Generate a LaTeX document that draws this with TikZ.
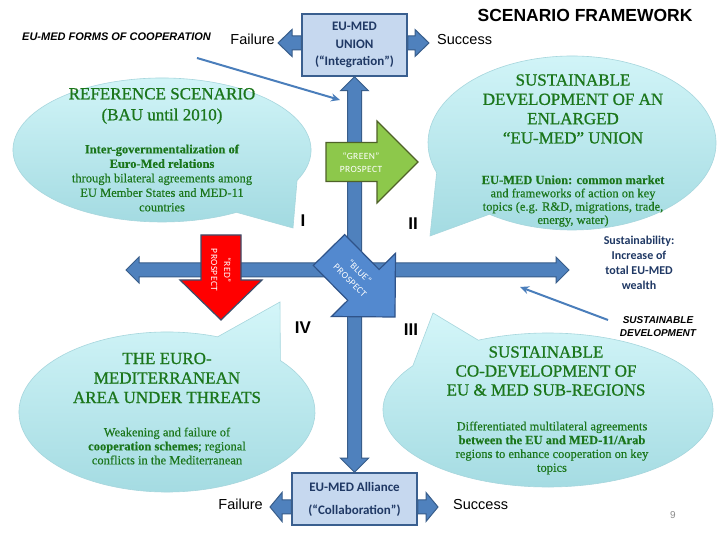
\documentclass[tikz,border=0pt]{standalone}
\usepackage{fontspec}
\setmainfont{Liberation Serif}
\newfontfamily\bubtitlefont[FakeBold=0.9]{Liberation Serif}
\newfontfamily\bubbodyfont[FakeBold=0.35]{Liberation Serif}
\newfontfamily\arial{Liberation Sans}
\newfontfamily\calibri{Carlito}
\newfontfamily\prosp[LetterSpace=4]{Carlito}
\usetikzlibrary{calc,arrows.meta}
\definecolor{axisfill}{HTML}{4F81BD}
\definecolor{axisedge}{HTML}{385D8A}
\definecolor{boxfill}{HTML}{C6D8EF}
\definecolor{boxedge}{HTML}{3A5F8F}
\definecolor{navy}{HTML}{1F3864}
\definecolor{bubtop}{HTML}{D4F6F9}
\definecolor{bubbot}{HTML}{A2DAE1}
\definecolor{bubedge}{HTML}{A6D6DD}
\definecolor{bubtext}{HTML}{1B761B}
\definecolor{greenfill}{HTML}{8DC84B}
\definecolor{greenedge}{HTML}{4F6228}
\definecolor{redfill}{HTML}{FF0000}
\definecolor{redge}{HTML}{3B4E6B}
\definecolor{bluefill}{HTML}{5389CF}
\definecolor{bluedge}{HTML}{2F5389}
\definecolor{thinblue}{HTML}{4A7EBB}
\definecolor{pagegray}{HTML}{8C8C8C}
% double-headed block arrow: [style]{A}{B}{shaft half}{head half}{head length}
\newcommand\dblockarrow[6][]{%
  \path ($(#2)!#6!(#3)$) coordinate (tmpa) ($(#3)!#6!(#2)$) coordinate (tmpb);
  \filldraw[#1] (#2) -- ($(tmpa)!#5!90:(#3)$) -- ($(tmpa)!#4!90:(#3)$)
    -- ($(tmpb)!#4!-90:(#2)$) -- ($(tmpb)!#5!-90:(#2)$) -- (#3)
    -- ($(tmpb)!#5!90:(#2)$) -- ($(tmpb)!#4!90:(#2)$)
    -- ($(tmpa)!#4!-90:(#3)$) -- ($(tmpa)!#5!-90:(#3)$) -- cycle;}
% single-headed block arrow: [style]{start}{tip}{shaft half}{head half}{head length}
\newcommand\sblockarrow[6][]{%
  \path ($(#3)!#6!(#2)$) coordinate (tmpb);
  \filldraw[#1] ($(#2)!#4!90:(#3)$) -- ($(tmpb)!#4!-90:(#2)$) -- ($(tmpb)!#5!-90:(#2)$)
    -- (#3) -- ($(tmpb)!#5!90:(#2)$) -- ($(tmpb)!#4!90:(#2)$) -- ($(#2)!#4!-90:(#3)$) -- cycle;}
\begin{document}
\begin{tikzpicture}[x=1pt,y=1pt,
  bubble/.style={top color=bubtop, bottom color=bubbot, draw=bubedge, line width=0.6pt},
  bubtitle/.style={text=bubtext, align=center, inner sep=0pt},
  bubbody/.style={text=bubtext, align=center, inner sep=0pt, font=\bubbodyfont\fontsize{12.5}{14}\selectfont},
  boxstyle/.style={draw=boxedge, fill=boxfill, line width=1.5pt, text=navy, align=center, inner sep=0pt},
  axisarrow/.style={fill=axisfill, draw=axisedge, line width=1pt},
  sideword/.style={font=\arial\fontsize{14.5}{17}\selectfont, inner sep=0pt},
  romannum/.style={font=\arial\bfseries\fontsize{17}{20}\selectfont, inner sep=0pt},
  thinarrow/.style={draw=thinblue, line width=2pt, -{Stealth[length=9pt,width=8pt]}},
  prospecttext/.style={text=white, align=center, inner sep=0pt, font=\prosp\fontsize{9.5}{13}\selectfont}
]
\useasboundingbox (0,0) rectangle (720,540);
\fill[white] (0,0) rectangle (720,540);

% speech bubbles
\path[bubble] (162,390) ++(-25:149pt and 72pt) arc[start angle=-25, end angle=300, x radius=149pt, y radius=72pt] -- (293,312) -- cycle;
\path[bubble] (572,397) ++(235:144pt and 87pt) arc[start angle=235, end angle=560, x radius=144pt, y radius=87pt] -- (430,304) -- cycle;
\path[bubble] (167,128) ++(70:148pt and 80pt) arc[start angle=70, end angle=400, x radius=148pt, y radius=80pt] -- (280,238) -- cycle;
\path[bubble] (548,130) ++(145:165pt and 77pt) arc[start angle=145, end angle=475, x radius=165pt, y radius=77pt] -- (433,227) -- cycle;

% bubble texts
\node[bubtitle, font=\bubtitlefont\fontsize{17}{21}\selectfont] (t1) at (162,434) {REFERENCE SCENARIO\\(BAU until 2010)};
\node[bubbody, font=\bubbodyfont\fontsize{12.5}{14.5}\selectfont] (b1) at (162,362) {\textbf{Inter-governmentalization of}\\\textbf{Euro-Med relations}\\through bilateral agreements among\\EU Member States and MED-11\\countries};
\node[bubtitle, font=\bubtitlefont\fontsize{17}{19.3}\selectfont] (t2) at (573,431) {SUSTAINABLE\\DEVELOPMENT OF AN\\ENLARGED\\“EU-MED” UNION};
\node[bubbody, font=\bubbodyfont\fontsize{12.5}{13.3}\selectfont] (b2) at (573,339) {\textbf{EU-MED Union: common market}\\and frameworks of action on key\\topics (e.g. R\&D, migrations, trade,\\energy, water)};
\node[bubtitle, font=\bubtitlefont\fontsize{17}{19.5}\selectfont] (t3) at (167,162) {THE EURO-\\MEDITERRANEAN\\AREA UNDER THREATS};
\node[bubbody] (b3) at (167,94) {Weakening and failure of\\\textbf{cooperation schemes}; regional\\conflicts in the Mediterranean};
\node[bubtitle, font=\bubtitlefont\fontsize{17}{19}\selectfont] (t4) at (546,169) {SUSTAINABLE\\CO-DEVELOPMENT OF\\EU \& MED SUB-REGIONS};
\node[bubbody, font=\bubbodyfont\fontsize{12.5}{13.8}\selectfont] (b4) at (552,92) {Differentiated multilateral agreements\\\textbf{between the EU and MED-11/Arab}\\regions to enhance cooperation on key\\topics};

% boxes
\node[boxstyle, minimum width=105pt, minimum height=62pt, font=\calibri\bfseries\fontsize{13}{17.5}\selectfont] (U) at (354.5,495) {EU-MED\\UNION\\(“Integration”)};
\node[boxstyle, minimum width=125pt, minimum height=52pt, font=\calibri\bfseries\fontsize{13}{17}\selectfont] (A) at (354.5,41) {EU-MED Alliance\\[6pt](“Collaboration”)};

% axes
\coordinate (hl) at (126,270);
\coordinate (hr) at (569,270);
\dblockarrow[axisarrow]{U.south}{A.north}{7pt}{14pt}{14pt}
\dblockarrow[axisarrow]{hl}{hr}{7pt}{13pt}{13pt}

% failure / success arrows
\coordinate (ftop) at (278,497);
\coordinate (stop) at (429,497);
\coordinate (fbs) at ($(A.west)+(0,-8)$);
\coordinate (sbs) at ($(A.east)+(0,-8)$);
\coordinate (fbot) at (270,33);
\coordinate (sbot) at (438,33);
\sblockarrow[axisarrow]{U.west |- ftop}{ftop}{7pt}{13.5pt}{14pt}
\sblockarrow[axisarrow]{U.east |- stop}{stop}{7pt}{13.5pt}{14pt}
\sblockarrow[axisarrow]{fbs}{fbot}{7pt}{14.5pt}{12pt}
\sblockarrow[axisarrow]{sbs}{sbot}{7pt}{14.5pt}{12pt}
\node[sideword, anchor=base east] (fw1) at (275,495) {Failure};
\node[sideword, anchor=base west] (sw1) at (437,495) {Success};
\node[sideword, anchor=base east] (fw2) at (263,30) {Failure};
\node[sideword, anchor=base west] (sw2) at (453,30) {Success};

% prospect arrows
\coordinate (gs) at (326,378);
\coordinate (gt) at (418,378);
\sblockarrow[fill=greenfill, draw=greenedge, line width=1.2pt]{gs}{gt}{19.5pt}{41pt}{41pt}
\node[prospecttext] (gtext) at (361,377) {“GREEN”\\PROSPECT};
\coordinate (rs) at (221,305);
\coordinate (rt) at (221,220);
\sblockarrow[fill=redfill, draw=redge, line width=1.2pt]{rs}{rt}{20pt}{41pt}{40pt}
\node[prospecttext, rotate=-90] (rtext) at (221,270) {“RED”\\PROSPECT};
\coordinate (bs) at (329,290);
\coordinate (bt) at (395,223);
\sblockarrow[fill=bluefill, draw=bluedge, line width=1.2pt]{bs}{bt}{22pt}{45pt}{45pt}
\node[prospecttext, rotate=-45] (btext) at (355,264) {“BLUE”\\PROSPECT};

% quadrant numerals
\node[romannum] (q1) at (303,319) {I};
\node[romannum] (q2) at (413,316) {II};
\node[romannum] (q4) at (303,212) {IV};
\node[romannum] (q3) at (411,210) {III};

% headings and side labels
\node[font=\arial\bfseries\fontsize{17.5}{20}\selectfont, inner sep=0pt] (title) at (585,525) {SCENARIO FRAMEWORK};
\node[font=\arial\bfseries\itshape\fontsize{11}{13}\selectfont, anchor=west, inner sep=0pt] (forms) at (22,503) {EU-MED FORMS OF COOPERATION};
\node[font=\calibri\bfseries\fontsize{12}{15}\selectfont, text=navy, align=center, inner sep=0pt] (wealth) at (639,277.5) {Sustainability:\\Increase of\\total EU-MED\\wealth};
\node[font=\arial\bfseries\itshape\fontsize{10}{13}\selectfont, align=center, inner sep=0pt] (sd) at (658,213.5) {SUSTAINABLE\\DEVELOPMENT};
\node[font=\arial\fontsize{10}{12}\selectfont, text=pagegray, inner sep=0pt] (page) at (673,25) {9};

% thin arrows
\coordinate (f1) at (197,482);
\coordinate (f2) at (340,440);
\draw[thinarrow] (f1) -- (f2);
\coordinate (s1) at (608,220);
\coordinate (s2) at (520,253);
\draw[thinarrow] (s1) -- (s2);
\end{tikzpicture}
\end{document}
